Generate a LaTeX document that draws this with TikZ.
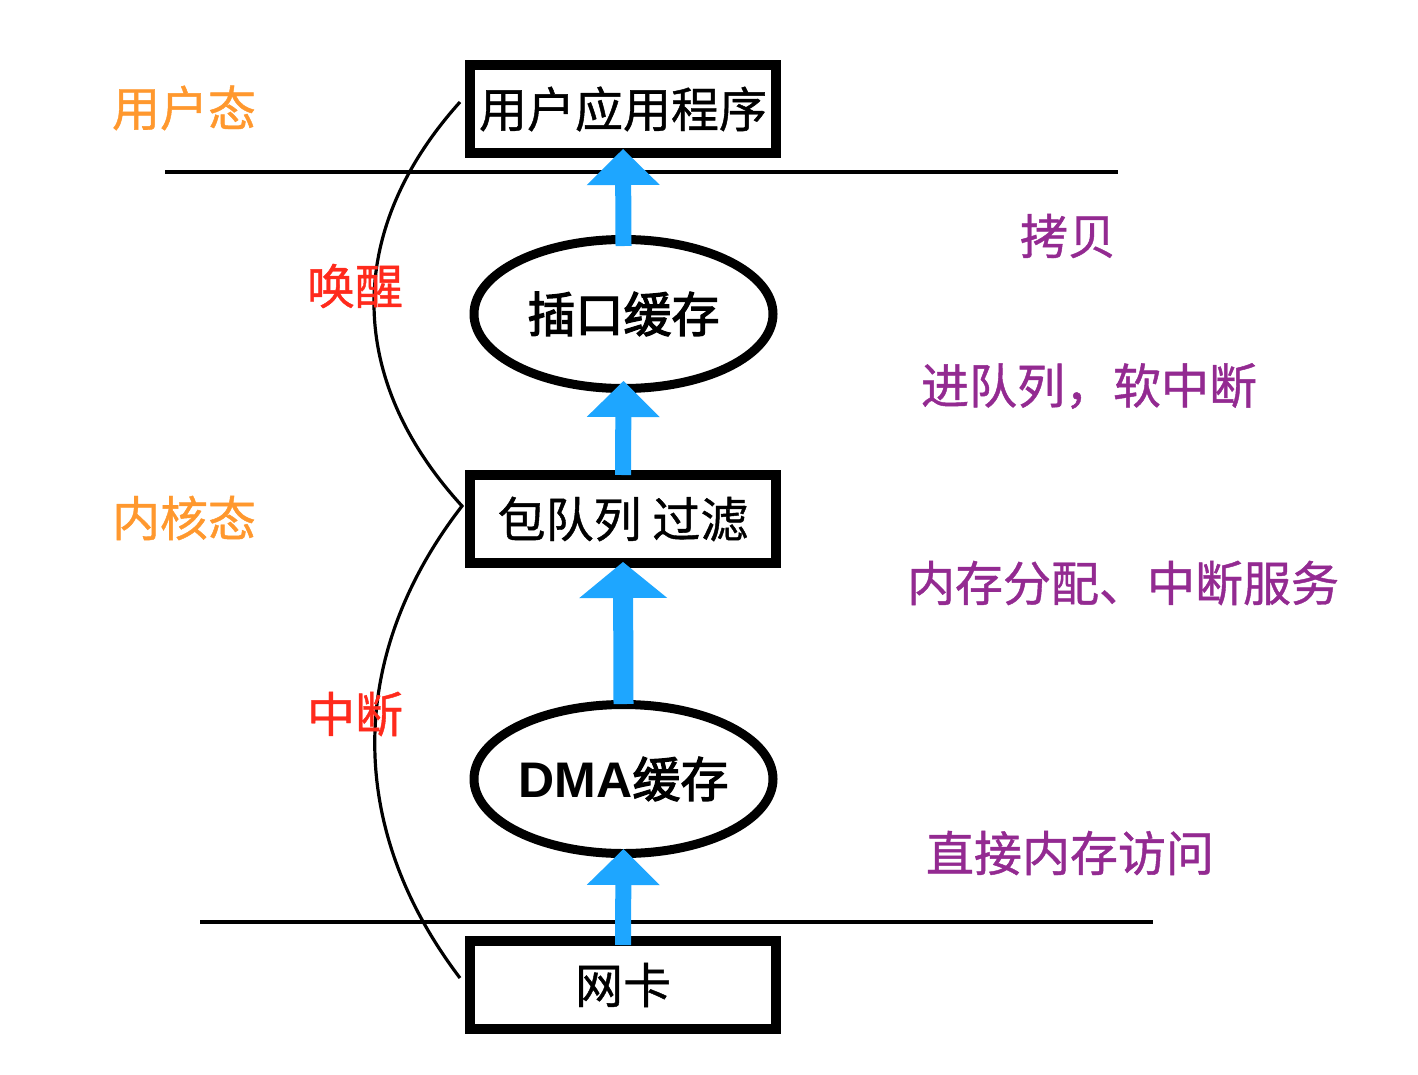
\documentclass[tikz,border=0pt]{standalone}
\usepackage{fontspec}
\setmainfont{Noto Sans CJK SC}[FakeBold=0.9]
\newfontfamily\semib{Noto Sans CJK SC}[FakeBold=2.6]
\newfontfamily\latinb{Liberation Sans}
\usetikzlibrary{positioning,arrows.meta,shapes}
\definecolor{stateor}{RGB}{255,152,46}
\definecolor{evred}{RGB}{255,42,28}
\definecolor{steppur}{RGB}{147,42,145}
\definecolor{flowblue}{RGB}{30,166,255}

\begin{document}
\begin{tikzpicture}[x=1pt, y=-1pt,
  box/.style={rectangle, draw=black, line width=10pt, minimum width=306pt,
              minimum height=88pt, inner sep=0pt, font=\fontsize{48}{50}\selectfont},
  buf/.style={ellipse, draw=black, line width=9pt, minimum width=299pt,
              minimum height=149pt, inner sep=0pt, font=\fontsize{48}{50}\semib},
  lbl/.style={font=\fontsize{48}{50}\selectfont, text=#1, inner sep=0pt},
  ar/.style={-{Triangle[width=73pt, length=36pt, line width=0pt]}, line width=16pt, draw=flowblue},
  arw/.style={-{Triangle[width=88pt, length=36pt, line width=0pt]}, line width=20pt, draw=flowblue},
  sep/.style={line width=3.5pt},
  brace/.style={line width=3.2pt},
]
\useasboundingbox (0,0) rectangle (1418,1074);

% layers
\draw[sep] (165,172) -- (1118,172);
\draw[sep] (200,922) -- (1153,922);

% path of a packet
\node[box] (app)   at (623,109)   {用户应用程序};
\node[buf] (sock)  at (623.5,314) {插口缓存};
\node[box] (queue) at (623,519)   {包队列 过滤};
\node[buf] (dma)   at (623.5,779) {{\latinb\bfseries\fontsize{50}{50}\selectfont DMA}缓存};
\node[box] (nic)   at (623,985)   {网卡};

\draw[ar]  ([yshift=-11pt]sock.north) -- ([yshift=9pt]app.south);
\draw[ar]  ([yshift=-5pt]queue.north) -- ([yshift=12pt]sock.south);
\draw[arw] ([yshift=-4pt]dma.north)   -- ([yshift=6pt]queue.south);
\draw[ar]  ([yshift=-9pt]nic.north)   -- ([yshift=9pt]dma.south);

% wake-up / interrupt brace
\coordinate (wtop) at (460,102);
\coordinate (wmid) at (462,506);
\coordinate (wbot) at (460,978);
\draw[brace] (wtop) .. controls (345,230) and (345,378) .. (wmid)
                    .. controls (346,656) and (346,828) .. (wbot);

\node[lbl=stateor] (user) at (184,108) {用户态};
\node[lbl=stateor] (kern) at (184,518) {内核态};
\node[lbl=evred]   (wake) at (355,286) {唤醒};
\node[lbl=evred]   (irq)  at (355,714) {中断};

\node[lbl=steppur] (copy)  at (1068,236) {拷贝};
\node[lbl=steppur] (enq)   at (1089,386) {进队列，软中断};
\node[lbl=steppur] (alloc) at (1123,583) {内存分配、中断服务};
\node[lbl=steppur] (dmac)  at (1070,853) {直接内存访问};

\end{tikzpicture}
\end{document}
